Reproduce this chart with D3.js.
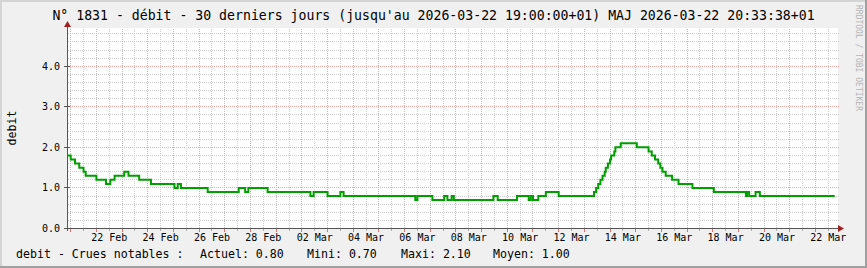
<!DOCTYPE html>
<html>
<head>
<meta charset="utf-8">
<script src="https://cdn.jsdelivr.net/npm/d3@7"></script>
<style>
  body { margin: 0; background: #f0f0f0; }
  text { font-family: "DejaVu Sans Mono", monospace; fill: #000; }
</style>
</head>
<body>
<div id="graph"></div>
<script>
// step changes of the flow (debit)
var stepTimes = [
  "2026-02-20T09:00", "2026-02-20T12:00", "2026-02-20T16:00", "2026-02-20T20:00",
  "2026-02-21T00:00", "2026-02-21T02:00", "2026-02-21T12:00", "2026-02-21T21:00",
  "2026-02-22T01:00", "2026-02-22T05:00", "2026-02-22T14:00", "2026-02-22T18:00",
  "2026-02-23T04:00", "2026-02-23T15:00", "2026-02-24T13:00", "2026-02-24T16:00",
  "2026-02-24T19:00", "2026-02-25T20:00", "2026-02-27T01:00", "2026-02-27T07:00",
  "2026-02-27T10:00", "2026-02-28T04:00", "2026-03-01T20:00", "2026-03-01T23:00",
  "2026-03-02T12:00", "2026-03-03T00:00", "2026-03-03T03:00", "2026-03-05T22:00",
  "2026-03-06T00:00", "2026-03-06T14:00", "2026-03-07T01:00", "2026-03-07T04:00",
  "2026-03-07T08:00", "2026-03-07T10:00", "2026-03-08T23:00", "2026-03-09T03:00",
  "2026-03-09T21:00", "2026-03-10T08:00", "2026-03-10T10:00", "2026-03-10T12:00",
  "2026-03-10T17:00", "2026-03-11T00:00", "2026-03-11T12:00", "2026-03-12T21:00",
  "2026-03-12T23:00", "2026-03-13T01:00", "2026-03-13T03:00", "2026-03-13T05:00",
  "2026-03-13T07:00", "2026-03-13T08:00", "2026-03-13T10:00", "2026-03-13T12:00",
  "2026-03-13T13:00", "2026-03-13T16:00", "2026-03-13T17:00", "2026-03-13T22:00",
  "2026-03-14T13:00", "2026-03-15T00:00", "2026-03-15T03:00", "2026-03-15T06:00",
  "2026-03-15T09:00", "2026-03-15T11:00", "2026-03-15T13:00", "2026-03-15T16:00",
  "2026-03-15T22:00", "2026-03-16T04:00", "2026-03-16T17:00", "2026-03-17T13:00",
  "2026-03-18T19:00", "2026-03-18T20:00", "2026-03-18T22:00", "2026-03-19T04:00",
  "2026-03-19T08:00"
];
var stepValues = [
  1.8, 1.7, 1.6, 1.5,
  1.4, 1.3, 1.2, 1.1,
  1.2, 1.3, 1.4, 1.3,
  1.2, 1.1, 1.0, 1.1,
  1.0, 0.9, 1.0, 0.9,
  1.0, 0.9, 0.8, 0.9,
  0.8, 0.9, 0.8, 0.7,
  0.8, 0.7, 0.8, 0.7,
  0.8, 0.7, 0.8, 0.7,
  0.8, 0.7, 0.8, 0.7,
  0.8, 0.9, 0.8, 0.9,
  1.0, 1.1, 1.2, 1.3,
  1.4, 1.5, 1.6, 1.7,
  1.8, 1.9, 2.0, 2.1,
  2.0, 1.9, 1.8, 1.7,
  1.6, 1.5, 1.4, 1.3,
  1.2, 1.1, 1.0, 0.9,
  0.8, 0.9, 0.8, 0.9,
  0.8
];
var lastTime = "2026-03-22T06:00";

var yTicks = [0, 1, 2, 3, 4];
var firstLabelDay = "2026-02-22";
var titleText = "N° 1831 - débit - 30 derniers jours (jusqu'au 2026-03-22 19:00:00+01) MAJ 2026-03-22 20:33:38+01";
var yLabel = "debit";
var legendParts = ["debit - Crues notables :", "Actuel: 0.80", "Mini: 0.70", "Maxi: 2.10", "Moyen: 1.00"];
var legendX = [16, 200, 307, 401, 493];
var watermark = "RRDTOOL / TOBI OETIKER";

var width = 867;
var height = 268;
var plotLeft = 67.5, plotRight = 838.5, plotTop = 28.5, plotBottom = 228.5;

var parseTime = d3.utcParse("%Y-%m-%dT%H:%M");
var parseDay = d3.utcParse("%Y-%m-%d");

var svg = d3.select("#graph")
    .append("svg")
    .attr("width", width)
    .attr("height", height);

// background with the rrdtool shading
svg.append("rect").attr("width", width).attr("height", height).attr("fill", "#f0f0f0");
svg.append("rect").attr("x", 0).attr("y", 0).attr("width", width).attr("height", 2).attr("fill", "#d4d4d4");
svg.append("rect").attr("x", 0).attr("y", 0).attr("width", 2).attr("height", height).attr("fill", "#d4d4d4");
svg.append("rect").attr("x", 0).attr("y", height - 2).attr("width", width).attr("height", 2).attr("fill", "#a0a0a0");
svg.append("rect").attr("x", width - 2).attr("y", 0).attr("width", 2).attr("height", height).attr("fill", "#a0a0a0");

// canvas
svg.append("rect")
    .attr("x", 67).attr("y", 28)
    .attr("width", 771).attr("height", 200)
    .attr("fill", "#fff");

var xScale = d3.scaleUtc()
    .domain([Date.UTC(2026, 1, 20, 9, 0), Date.UTC(2026, 2, 22, 9, 30)])
    .range([plotLeft, plotRight]);

var yScale = d3.scaleLinear()
    .domain([0, 4.93])
    .range([plotBottom, plotTop]);

// horizontal grid: minor every 0.2, major at each unit
var hGrid = d3.range(1, 25).map(function (i) { return i / 5; });
svg.append("g").selectAll("line")
    .data(hGrid)
    .enter().append("line")
    .attr("x1", plotLeft).attr("x2", plotRight)
    .attr("y1", function (d) { return Math.round(yScale(d) - 0.5) + 0.5; })
    .attr("y2", function (d) { return Math.round(yScale(d) - 0.5) + 0.5; })
    .attr("stroke", function (d, i) { return (i + 1) % 5 === 0 ? "#f3a6a6" : "#cfcfcf"; })
    .attr("stroke-dasharray", "1,1")
    .attr("shape-rendering", "crispEdges");

// vertical grid every 12 hours, red at noon
var vGrid = d3.utcHour.every(12).range(xScale.domain()[0], xScale.domain()[1]);
svg.append("g").selectAll("line")
    .data(vGrid)
    .enter().append("line")
    .attr("x1", function (d) { return Math.round(xScale(d) - 0.5) + 0.5; })
    .attr("x2", function (d) { return Math.round(xScale(d) - 0.5) + 0.5; })
    .attr("y1", plotTop).attr("y2", plotBottom)
    .attr("stroke", function (d) { return d.getUTCHours() === 12 ? "#f3a6a6" : "#cfcfcf"; })
    .attr("stroke-dasharray", "1,1")
    .attr("shape-rendering", "crispEdges");

// x ticks below the axis
svg.append("g").selectAll("line")
    .data(vGrid)
    .enter().append("line")
    .attr("x1", function (d) { return Math.round(xScale(d) - 0.5) + 0.5; })
    .attr("x2", function (d) { return Math.round(xScale(d) - 0.5) + 0.5; })
    .attr("y1", plotBottom)
    .attr("y2", function (d) { return d.getUTCHours() === 12 ? plotBottom + 3 : plotBottom + 2; })
    .attr("stroke", function (d) { return d.getUTCHours() === 12 ? "#e07070" : "#b0b0b0"; })
    .attr("shape-rendering", "crispEdges");

// x labels every 2 days
var labelDays = d3.utcDay.range(parseDay(firstLabelDay), xScale.domain()[1], 2);
var fmt = d3.utcFormat("%d %b");
svg.append("g").selectAll("text")
    .data(labelDays)
    .enter().append("text")
    .attr("x", function (d) { return xScale(d); })
    .attr("y", 241)
    .attr("text-anchor", "middle")
    .attr("font-size", "10px")
    .text(function (d) { return fmt(d); });

// y labels + ticks
svg.append("g").selectAll("text")
    .data(yTicks)
    .enter().append("text")
    .attr("x", 60)
    .attr("y", function (d) { return yScale(d) + 3.5; })
    .attr("text-anchor", "end")
    .attr("font-size", "10px")
    .text(function (d) { return d3.format(".1f")(d); });

svg.append("g").selectAll("line")
    .data(yTicks)
    .enter().append("line")
    .attr("x1", 64).attr("x2", 70)
    .attr("y1", function (d) { return Math.round(yScale(d) - 0.5) + 0.5; })
    .attr("y2", function (d) { return Math.round(yScale(d) - 0.5) + 0.5; })
    .attr("stroke", "#555")
    .attr("shape-rendering", "crispEdges");

// the flow line
var lineData = stepTimes.map(function (t, i) {
    return { t: parseTime(t), v: stepValues[i] };
});
lineData.push({ t: parseTime(lastTime), v: stepValues[stepValues.length - 1] });

var line = d3.line()
    .x(function (d) { return xScale(d.t); })
    .y(function (d) { return yScale(d.v); })
    .curve(d3.curveStepAfter);

svg.append("path")
    .datum(lineData)
    .attr("d", line)
    .attr("fill", "none")
    .attr("stroke", "#009f00")
    .attr("stroke-width", 2);

// axes with arrows
svg.append("line")
    .attr("x1", 65).attr("x2", 839)
    .attr("y1", plotBottom).attr("y2", plotBottom)
    .attr("stroke", "#555").attr("shape-rendering", "crispEdges");
svg.append("line")
    .attr("x1", plotLeft).attr("x2", plotLeft)
    .attr("y1", 231).attr("y2", 25)
    .attr("stroke", "#555").attr("shape-rendering", "crispEdges");
svg.append("path")
    .attr("d", "M838,225L844,228.5L838,232Z")
    .attr("fill", "#a02020");
svg.append("path")
    .attr("d", "M64,27L67.5,21L71,27Z")
    .attr("fill", "#a02020");

// title
svg.append("text")
    .attr("x", width / 2)
    .attr("y", 20)
    .attr("text-anchor", "middle")
    .attr("font-size", "13.2px")
    .text(titleText);

// vertical unit label
svg.append("text")
    .attr("transform", "translate(15.5,128)rotate(-90)")
    .attr("text-anchor", "middle")
    .attr("font-size", "11.6px")
    .text(yLabel);

// legend
svg.append("g").selectAll("text")
    .data(legendParts)
    .enter().append("text")
    .attr("x", function (d, i) { return legendX[i]; })
    .attr("y", 258)
    .attr("font-size", "11.6px")
    .text(function (d) { return d; });

// watermark
svg.append("text")
    .attr("transform", "translate(855.5,5)rotate(90)")
    .attr("font-size", "8px")
    .style("fill", "#b4b4b4")
    .text(watermark);
</script>
</body>
</html>
